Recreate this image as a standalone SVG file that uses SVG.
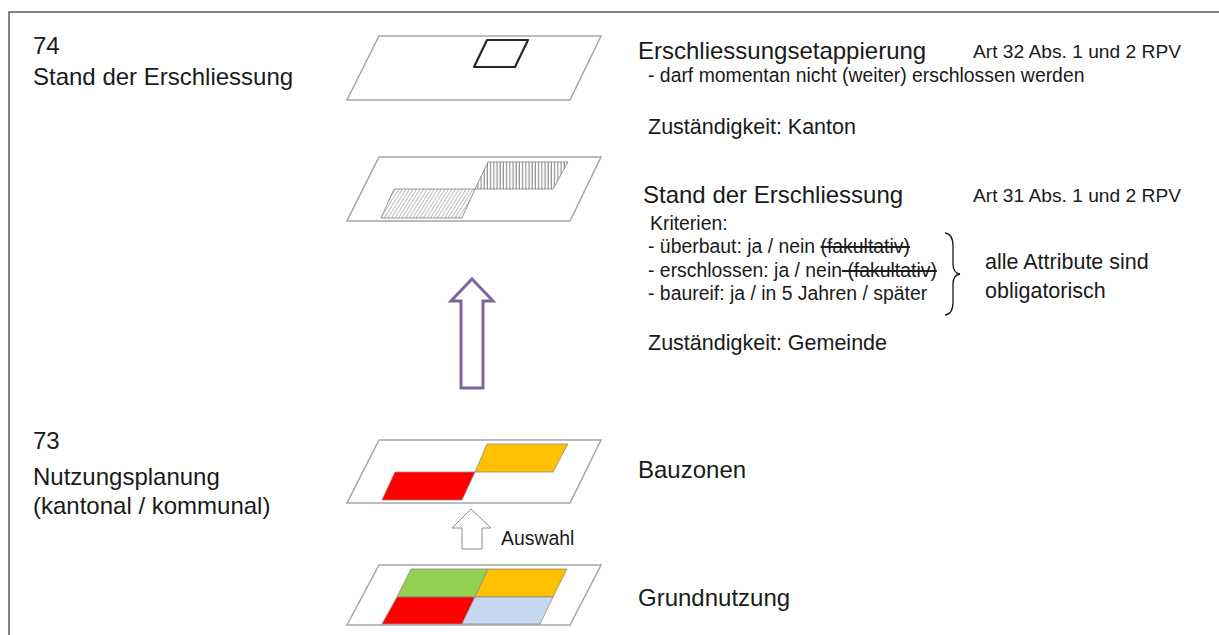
<svg xmlns="http://www.w3.org/2000/svg" width="1219" height="635" viewBox="0 0 1219 635">
  <style>
    text { font-family: "Liberation Sans", Arial, sans-serif; fill: #1a1a1a; }
    .title { font-size: 24px; }
    .small { font-size: 19.4px; }
    .mid { font-size: 21.5px; }
    .plane { fill: #ffffff; stroke: #a6a6a6; stroke-width: 1.5; }
    .cell { stroke: #8c8c8c; stroke-width: 0.8; }
    .strike { text-decoration: line-through; }
  </style>
  <defs>
    <pattern id="hatchDiag" patternUnits="userSpaceOnUse" width="3" height="4" patternTransform="rotate(32)">
      <line x1="0" y1="0" x2="0" y2="4" stroke="#6f6f6f" stroke-width="0.9"/>
    </pattern>
    <pattern id="hatchVert" patternUnits="userSpaceOnUse" width="3.2" height="4">
      <line x1="1" y1="0" x2="1" y2="4" stroke="#6f6f6f" stroke-width="0.9"/>
    </pattern>
  </defs>

  <rect width="1219" height="635" fill="#ffffff"/>
  <!-- frame -->
  <path d="M9,635 V12 H1219" fill="none" stroke="#595959" stroke-width="1.5"/>

  <!-- level labels -->
  <g id="label-74">
    <text class="title" x="33" y="54">74</text>
    <text class="title" x="33" y="85">Stand der Erschliessung</text>
  </g>
  <g id="label-73">
    <text class="title" x="33" y="449">73</text>
    <text class="title" x="33" y="485">Nutzungsplanung</text>
    <text class="title" x="33" y="514">(kantonal / kommunal)</text>
  </g>

  <!-- layer: Erschliessungsetappierung -->
  <g id="layer-etappierung">
    <polygon class="plane" points="379,36 601,36 570,100 347,100"/>
    <polygon points="487,40 528,40 515,67 474,67" fill="none" stroke="#262626" stroke-width="2.2" stroke-linejoin="round"/>
  </g>
  <g id="text-etappierung">
    <text class="title" x="638" y="59">Erschliessungsetappierung</text>
    <text class="small" x="973" y="58" style="font-size:19.2px">Art 32 Abs. 1 und 2 RPV</text>
    <text class="small" x="648" y="82">- darf momentan nicht (weiter) erschlossen werden</text>
    <text class="mid" x="648" y="134">Zuständigkeit: Kanton</text>
  </g>

  <!-- layer: Stand der Erschliessung -->
  <g id="layer-stand">
    <polygon class="plane" points="379,157 601,157 570,221 347,221"/>
    <polygon points="394,189 475,189 462,218 381,218" fill="url(#hatchDiag)" stroke="#7f7f7f" stroke-width="0.8"/>
    <polygon points="488,162 568,162 553,189 475,189" fill="url(#hatchVert)" stroke="#7f7f7f" stroke-width="0.8"/>
  </g>
  <g id="text-stand">
    <text class="title" x="643" y="203">Stand der Erschliessung</text>
    <text class="small" x="973" y="202" style="font-size:19.2px">Art 31 Abs. 1 und 2 RPV</text>
    <text class="small" x="650" y="230">Kriterien:</text>
    <text class="small" x="648" y="253">- überbaut: ja / nein <tspan class="strike">(fakultativ)</tspan></text>
    <text class="small" x="648" y="277" xml:space="preserve">- erschlossen: ja / nein<tspan class="strike"> (fakultativ)</tspan></text>
    <text class="small" x="648" y="300">- baureif: ja / in 5 Jahren / später</text>
    <path d="M945,233 Q953,234 953,246 V264 Q953,273 960,274 Q953,275 953,284 V302 Q953,314 945,315" fill="none" stroke="#1a1a1a" stroke-width="1.3"/>
    <text class="mid" x="985" y="269">alle Attribute sind</text>
    <text class="mid" x="985" y="298">obligatorisch</text>
    <text class="mid" x="648" y="350">Zuständigkeit: Gemeinde</text>
  </g>

  <!-- layer: Bauzonen -->
  <g id="layer-bauzonen">
    <polygon class="plane" points="379,440 601,440 570,503 347,503"/>
    <polygon class="cell" points="487,444 568,444 553,472 475,472" fill="#ffc000"/>
    <polygon class="cell" points="395,472 475,472 462,500 382,500" fill="#ff0000"/>
    <text class="title" x="638" y="478">Bauzonen</text>
  </g>

  <!-- layer: Grundnutzung -->
  <g id="layer-grundnutzung">
    <polygon class="plane" points="379,565 601,565 570,625 347,625"/>
    <polygon class="cell" points="411,569 488,569 475,597 397,597" fill="#92d050"/>
    <polygon class="cell" points="488,569 567,569 553,597 475,597" fill="#ffc000"/>
    <polygon class="cell" points="397,597 475,597 462,624 382,624" fill="#ff0000"/>
    <polygon class="cell" points="475,597 553,597 540,624 462,624" fill="#c6d9f1"/>
    <text class="title" x="638" y="606">Grundnutzung</text>
  </g>

  <!-- connectors -->
  <g id="connectors">
    <polygon points="472,279 493,301 483,301 483,388 461,388 461,301 451,301" fill="#ffffff" stroke="#8064a2" stroke-width="3" stroke-linejoin="miter"/>
    <polygon points="471,509 491,528 482,528 482,549 462,549 462,528 452,528" fill="#ffffff" stroke="#8c8c8c" stroke-width="1"/>
    <text class="small" x="501" y="545">Auswahl</text>
  </g>
</svg>
